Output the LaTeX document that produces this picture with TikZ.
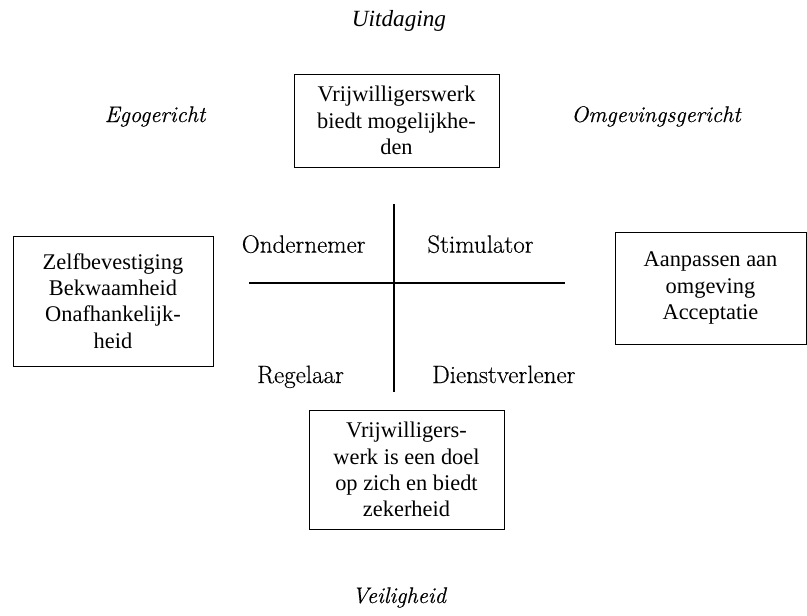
\documentclass[tikz,border=0pt]{standalone}
\usepackage{fontspec}
\newfontfamily\timesfont{Liberation Serif}
\newfontfamily\palfont[FakeBold=0.35]{Latin Modern Roman}
\tikzset{
  box/.style={draw, line width=0.8pt, align=center, inner sep=0pt,
    font=\timesfont\fontsize{22.4}{26.3}\selectfont},
  quad/.style={anchor=base, font=\palfont\fontsize{25}{30}\selectfont},
  axislab/.style={anchor=base, font=\palfont\itshape\fontsize{22.6}{27}\selectfont},
  axisline/.style={line width=1.2pt}
}
\begin{document}
\begin{tikzpicture}[x=1pt,y=-1pt]
\useasboundingbox (0,0) rectangle (807,616);
% boxes
\node[box, minimum width=205pt, minimum height=93pt] (top) at (396.5,120.5)
  {Vrijwilligerswerk\\biedt mogelijkhe-\\den};
\node[box, minimum width=200pt, minimum height=130pt] (left) at (113,301)
  {Zelfbevestiging\\Bekwaamheid\\Onafhankelijk-\\heid};
\node[box, minimum width=191pt, minimum height=112pt] (right) at (710.5,288)
  {Aanpassen aan\\omgeving\\Acceptatie};
\node[box, minimum width=195pt, minimum height=119pt] (bottom) at (406.5,469.5)
  {Vrijwilligers-\\werk is een doel\\op zich en biedt\\zekerheid};
% cross
\coordinate (vt) at (394,204);
\coordinate (vb) at (394,392);
\coordinate (hl) at (249,283);
\coordinate (hr) at (565,283);
\draw[axisline] (vt) -- (vb);
\draw[axisline] (hl) -- (hr);
% quadrant labels
\node[quad] (q1) at (303.7,252.7) {Ondernemer};
\node[quad] (q2) at (480.5,252.7) {Stimulator};
\node[quad] (q3) at (300.5,383) {Regelaar};
\node[quad] (q4) at (503.8,383) {Dienstverlener};
% axis labels
\node[anchor=base, font=\timesfont\itshape\fontsize{23.2}{28}\selectfont] (up) at (399,26) {Uitdaging};
\node[axislab] (ego) at (155,122) {Egogericht};
\node[axislab] (omg) at (656,122) {Omgevingsgericht};
\node[axislab] (down) at (399,603) {Veiligheid};
\end{tikzpicture}
\end{document}
